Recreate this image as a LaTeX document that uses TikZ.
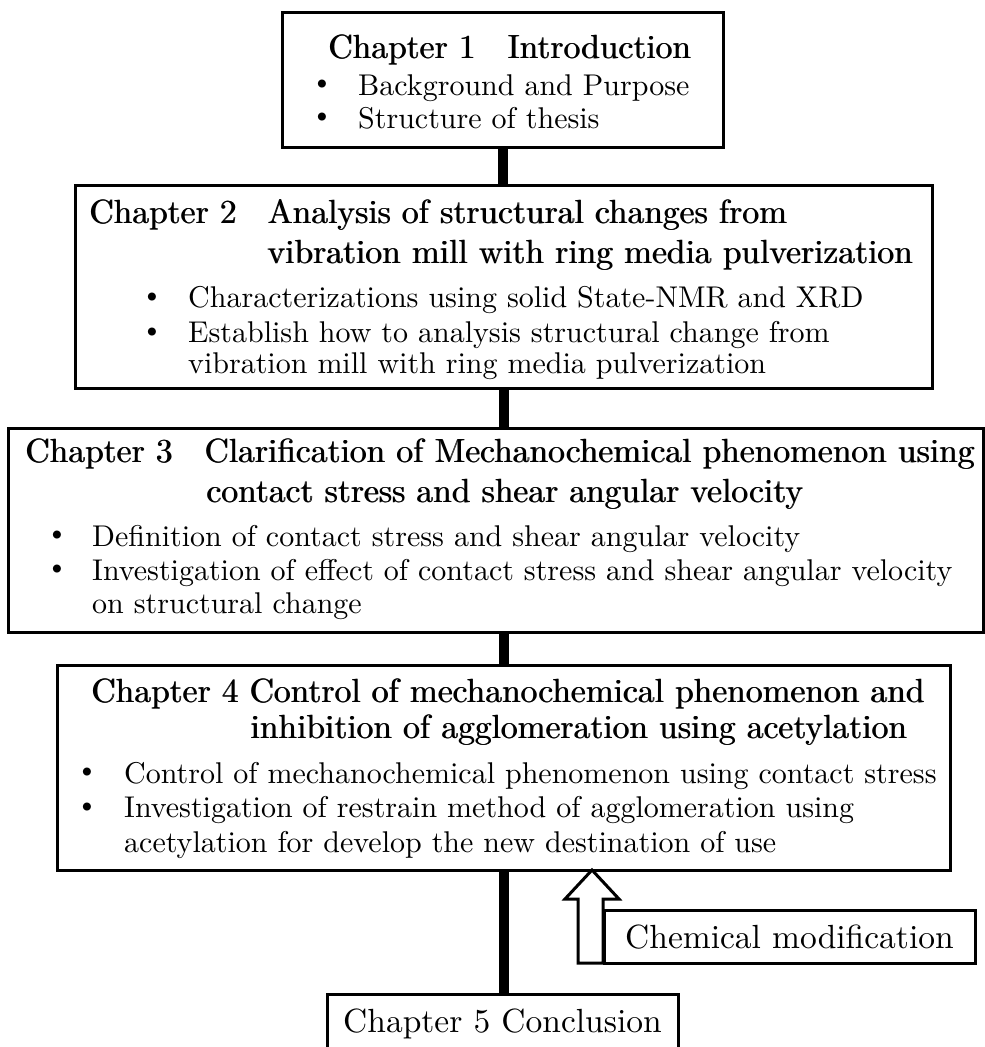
\documentclass[tikz,border=0pt]{standalone}
\usetikzlibrary{calc}
\font\ttlf="[lmroman10-regular]" at 33.5pt
\font\itmf="[lmroman10-regular]" at 30pt
\font\bulf="[lmroman10-regular]" at 28pt
\tikzset{
  box/.style={draw, line width=3pt, rectangle, inner sep=0pt},
  conn/.style={line width=10pt},
  ttl/.style={anchor=base west, inner sep=0pt, font=\ttlf},
  itm/.style={anchor=base west, inner sep=0pt, font=\itmf},
  bul/.style={anchor=base, inner sep=0pt, font=\bulf},
  blockarrow/.style={draw, line width=3pt, fill=white, line join=miter},
}
\newcommand\fb[1]{\rlap{#1}\hspace{0.8pt}#1}
\begin{document}
\begin{tikzpicture}[x=1pt,y=-1pt]
\useasboundingbox (0,0) rectangle (985,1047);
\clip (0,0) rectangle (985,1047);

% boxes
\node[box, minimum width=441, minimum height=135] (c1) at (502.5,79.5) {};
\node[box, minimum width=857, minimum height=203] (c2) at (503.5,286.5) {};
\node[box, minimum width=975, minimum height=204] (c3) at (495.5,530) {};
\node[box, minimum width=893, minimum height=205] (c4) at (503.5,767.5) {};
\node[box, minimum width=351, minimum height=80] (c5) at (502.5,1034) {};

% connectors
\draw[conn] (c1.south) -- (c1.south |- c2.north);
\draw[conn] (c2.south) -- (c2.south |- c3.north);
\draw[conn] (c2.south |- c3.south) -- (c2.south |- c4.north);
\draw[conn] (c4.south) -- (c4.south |- c5.north);

% block arrow and chemical modification box
\coordinate (tip) at (592,870);
\draw[blockarrow] (tip) -- ++(27,29) -- ++(-16,0) -- ++(0,64) -- ++(-25,0) -- ++(0,-64) -- ++(-13,0) -- cycle;
\node[box, fill=white, minimum width=371, minimum height=53] (chem) at (789.5,936.5) {};
\node[ttl] (t6) at (625,948) {Chemical modification};

% Chapter 1
\node[ttl] (t1) at (328,58) {\fb{Chapter 1\hspace{32pt}Introduction}};
\node[bul] (b1a) at (322,90) {\textbullet};
\node[bul] (b1b) at (322,123) {\textbullet};
\node[itm] (t1a) at (358,95) {Background and Purpose};
\node[itm] (t1b) at (358,128) {Structure of thesis};

% Chapter 2
\node[ttl] (t2) at (89,223) {\fb{Chapter 2\hspace{31pt}Analysis of structural changes from}};
\node[ttl] (t2b) at (267,263) {\fb{vibration mill with ring media pulverization}};
\node[bul] (b2a) at (152,303) {\textbullet};
\node[bul] (b2b) at (152,338) {\textbullet};
\node[itm] (t2c) at (188,307) {Characterizations using solid State-NMR and XRD};
\node[itm] (t2d) at (188,342) {Establish how to analysis structural change from};
\node[itm] (t2e) at (188,373) {vibration mill with ring media pulverization};

% Chapter 3
\node[ttl] (t3) at (25,462) {\fb{Chapter 3\hspace{32pt}Clarification of Mechanochemical phenomenon using}};
\node[ttl] (t3b) at (206,502) {\fb{contact stress and shear angular velocity}};
\node[bul] (b3a) at (57,541) {\textbullet};
\node[bul] (b3b) at (57,575) {\textbullet};
\node[itm] (t3c) at (92,546) {Definition of contact stress and shear angular velocity};
\node[itm] (t3d) at (92,580) {Investigation of effect of contact stress and shear angular velocity};
\node[itm] (t3e) at (92,613) {on structural change};

% Chapter 4
\node[ttl] (t4) at (91,702) {\fb{Chapter 4 Control of mechanochemical phenomenon and}};
\node[ttl] (t4b) at (250,738) {\fb{inhibition of agglomeration using acetylation}};
\node[bul] (b4a) at (87,778) {\textbullet};
\node[bul] (b4b) at (87,813) {\textbullet};
\node[itm] (t4c) at (124,783) {Control of mechanochemical phenomenon using contact stress};
\node[itm] (t4d) at (124,817) {Investigation of restrain method of agglomeration using};
\node[itm] (t4e) at (124,852) {acetylation for develop the new destination of use};

% Chapter 5
\node[ttl] (t5) at (343,1032) {Chapter 5 Conclusion};
\end{tikzpicture}
\end{document}
